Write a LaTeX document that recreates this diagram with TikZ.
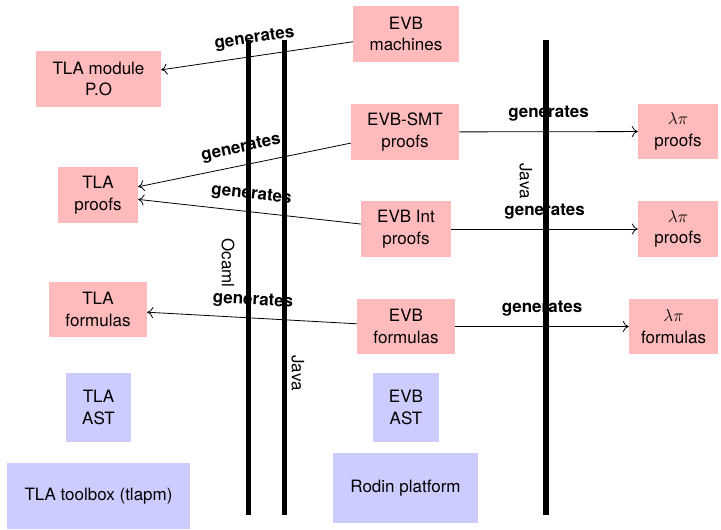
\documentclass[tikz,border=0pt]{standalone}
\usepackage{fontspec}
\setmainfont{TeX Gyre Heros}
\usetikzlibrary{arrows.meta}
\definecolor{pinkc}{RGB}{255,187,187}
\definecolor{bluec}{RGB}{204,204,255}
\begin{document}
\begin{tikzpicture}[x=1pt,y=-1pt,
  every node/.style={font=\fontsize{17}{21.5}\selectfont},
  pinkbox/.style={fill=pinkc, align=center, inner sep=0pt},
  bluebox/.style={fill=bluec, align=center, inner sep=0pt},
  gen/.style={font=\fontsize{17}{20}\selectfont\bfseries, inner sep=0pt},
  conn/.style={line width=0.8pt, -{Computer Modern Rightarrow[length=6pt,width=11pt]}},
  bar/.style={line width=5pt},
  widebar/.style={line width=6pt},
  lang/.style={rotate=-90, inner sep=0pt}]
\useasboundingbox (0,0) rectangle (721,530);
% nodes
\node[pinkbox, minimum width=125pt, minimum height=56pt] (tlamod) at (98.5,79) {TLA module\\P.O};
\node[pinkbox, minimum width=80pt, minimum height=56pt] (tlaproofs) at (98,195) {TLA\\proofs};
\node[pinkbox, minimum width=98pt, minimum height=55pt] (tlaform) at (98,309.5) {TLA\\formulas};
\node[pinkbox, minimum width=106pt, minimum height=56pt] (evbmach) at (406,34) {EVB\\machines};
\node[pinkbox, minimum width=108pt, minimum height=56pt] (evbsmt) at (405,132) {EVB-SMT\\proofs};
\node[pinkbox, minimum width=90pt, minimum height=56pt] (evbint) at (406,229) {EVB Int\\proofs};
\node[pinkbox, minimum width=98pt, minimum height=55pt] (evbform) at (406,326.5) {EVB\\formulas};
\node[pinkbox, minimum width=80pt, minimum height=55pt] (lp1) at (678,131.5) {$\lambda\pi$\\proofs};
\node[pinkbox, minimum width=80pt, minimum height=56pt] (lp2) at (678,229) {$\lambda\pi$\\proofs};
\node[pinkbox, minimum width=89pt, minimum height=55pt] (lpf) at (673.5,326.5) {$\lambda\pi$\\formulas};
\node[bluebox, minimum width=65pt, minimum height=69pt] (tlaast) at (98.5,407.5) {TLA\\AST};
\node[bluebox, minimum width=183pt, minimum height=66pt] (toolbox) at (98.5,496) {TLA toolbox (tlapm)};
\node[bluebox, minimum width=66pt, minimum height=69pt] (evbast) at (406,407.5) {EVB\\AST};
\node[bluebox, minimum width=145pt, minimum height=70pt] (rodin) at (405.5,488) {Rodin platform};
% connectors
\draw[conn] (evbmach) -- node[gen, midway, sloped, above=9pt] {generates} (tlamod);
\draw[conn] (evbsmt) -- node[gen, midway, sloped, above=9pt] {generates} (tlaproofs);
\draw[conn] (evbint) -- node[gen, midway, sloped, above=9pt] {generates} (tlaproofs);
\draw[conn] (evbform) -- node[gen, midway, sloped, above=9pt] {generates} (tlaform);
\draw[conn] (evbsmt) -- node[gen, midway, above=10pt] {generates} (lp1);
\draw[conn] (evbint) -- node[gen, midway, above=9pt] {generates} (lp2);
\draw[conn] (evbform) -- node[gen, midway, above=9.5pt] {generates} (lpf);
% language bars
\coordinate (o1t) at (248,40);
\coordinate (o1b) at (248,515);
\coordinate (j1t) at (284,40);
\coordinate (j1b) at (284,515);
\coordinate (j2t) at (545.5,40);
\coordinate (j2b) at (545.5,515);
\draw[bar] (o1t) -- (o1b);
\draw[bar] (j1t) -- (j1b);
\draw[widebar] (j2t) -- (j2b);
\node[lang] (ocaml) at (228,263) {Ocaml};
\node[lang] (javaA) at (298,373) {Java};
\node[lang] (javaB) at (526,181) {Java};
\end{tikzpicture}
\end{document}
